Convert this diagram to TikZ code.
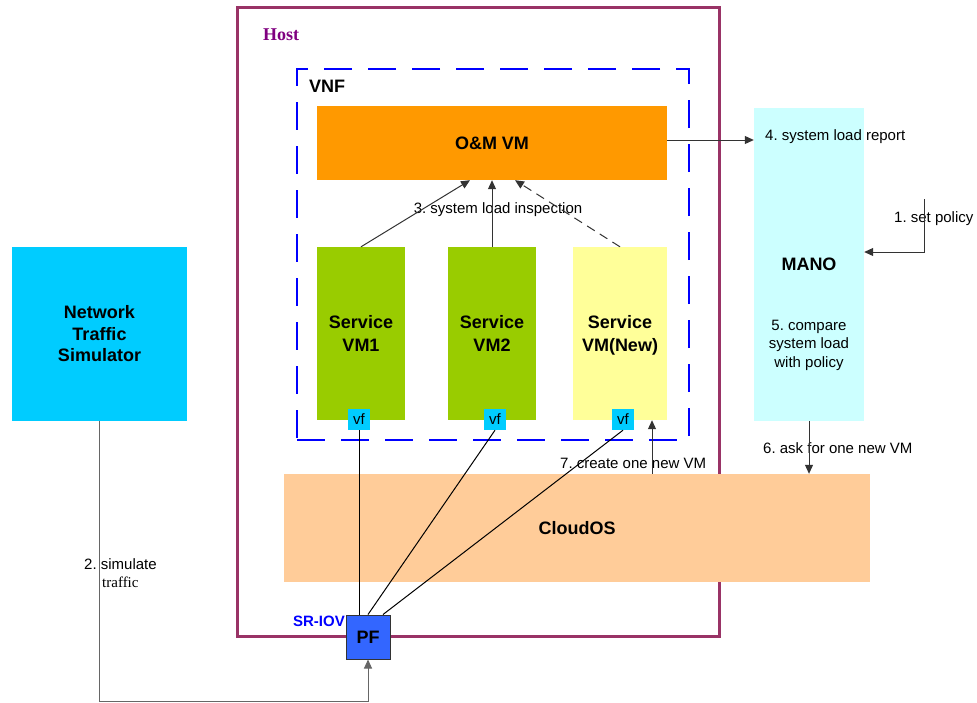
\documentclass[tikz,border=0pt]{standalone}
\usepackage{fontspec}
\setmainfont{Liberation Sans}
\newfontfamily\hostfont{Liberation Serif}
\usetikzlibrary{arrows.meta}
\frenchspacing
\definecolor{host_border}{RGB}{153,51,102}
\definecolor{host_text}{RGB}{128,0,128}
\definecolor{om_orange}{RGB}{255,153,0}
\definecolor{vm_green}{RGB}{153,204,0}
\definecolor{vm_yellow}{RGB}{255,255,153}
\definecolor{vf_cyan}{RGB}{0,204,255}
\definecolor{mano_cyan}{RGB}{204,255,255}
\definecolor{cloud_orange}{RGB}{255,204,153}
\definecolor{pf_blue}{RGB}{51,102,255}
\tikzstyle{box_normal} = [rectangle, inner sep=0pt, align=center, font=\fontsize{18}{23}\selectfont\bfseries]
\tikzstyle{box_host} = [rectangle, inner sep=0pt, draw=host_border, line width=3pt]
\tikzstyle{box_vnf} = [rectangle, inner sep=0pt, draw=blue, line width=2pt, dash pattern=on 28pt off 16pt]
\tikzstyle{node_vf} = [rectangle, inner sep=0pt, fill=vf_cyan, minimum width=22pt, minimum height=21pt, font=\fontsize{15}{18}\selectfont]
\tikzstyle{text_normal} = [inner sep=0pt, align=center, font=\fontsize{15}{18.5}\selectfont]
\tikzstyle{edge_normal} = [line width=1pt, draw=black!80, -{Triangle[length=9pt,width=8pt]}]
\tikzstyle{edge_dashed} = [edge_normal, dash pattern=on 9pt off 6pt]
\tikzstyle{edge_plain} = [line width=1pt]

\begin{document}
\begin{tikzpicture}[x=1pt,y=-1pt]
			\useasboundingbox (0,0) rectangle (977,702);
			% boxes
			\node (Host) at (478,321.5) [box_host, minimum width=482pt, minimum height=629pt] {};
			\node (HostLabel) at (281,35) [inner sep=0pt, text=host_text, font=\hostfont\bfseries\fontsize{18}{22}\selectfont] {Host};
			\node (VNF) at (493,254.5) [box_vnf, minimum width=392pt, minimum height=371pt] {};
			\node (VNFLabel) at (327,86) [box_normal] {VNF};
			\node (OM) at (492,143) [box_normal, fill=om_orange, minimum width=350pt, minimum height=74pt] {O\&M VM};
			\node (VM1) at (361,333.5) [box_normal, fill=vm_green, minimum width=88pt, minimum height=173pt] {Service\\VM1};
			\node (VM2) at (492,333.5) [box_normal, fill=vm_green, minimum width=88pt, minimum height=173pt] {Service\\VM2};
			\node (VMN) at (620,333.5) [box_normal, fill=vm_yellow, minimum width=94pt, minimum height=173pt] {Service\\VM\smash{(New)}};
			\node (vf1) at (359,419.5) [node_vf] {vf};
			\node (vf2) at (495,419.5) [node_vf] {vf};
			\node (vf3) at (623,419.5) [node_vf] {vf};
			\node (MANO) at (809,264.5) [box_normal, fill=mano_cyan, minimum width=110pt, minimum height=313pt] {MANO};
			\node (Compare) at (809,345) [text_normal] {5. compare\\system load\\with policy};
			\node (CloudOS) at (577,528) [box_normal, fill=cloud_orange, minimum width=586pt, minimum height=108pt] {CloudOS};
			\node (SIM) at (99.5,334) [box_normal, fill=vf_cyan, minimum width=175pt, minimum height=174pt, font=\fontsize{18}{21.5}\selectfont\bfseries] {Network\\Traffic\\Simulator};
			\node (PF) at (368,637) [box_normal, fill=pf_blue, draw=black!80, line width=1pt, minimum width=44pt, minimum height=44pt] {PF};
			\node (SRIOV) at (345,621) [anchor=east, inner sep=0pt, text=blue, font=\fontsize{15}{18}\selectfont\bfseries] {SR-IOV};
			% labels
			\node (L3) at (498,210) [text_normal] {3. system load inspection};
			\node (L4) at (765,137) [text_normal, anchor=west] {4. system load report};
			\node (L1) at (894,219) [text_normal, anchor=west] {1. set policy};
			\node (L6) at (763,448) [text_normal, anchor=west] {6. ask for one new VM};
			\node (L7) at (560,463) [text_normal, anchor=west] {7. create one new VM};
			\node (L2a) at (84,564) [text_normal, anchor=west] {2. simulate};
			\node (L2b) at (102,582) [text_normal, anchor=west, font=\hostfont\fontsize{15}{18}\selectfont] {traffic};
			% connectors
			\coordinate (P4) at ([yshift=3pt]OM.east);
			\coordinate (P1) at (924,199);
			\coordinate (P7) at ([xshift=75pt]CloudOS.north);
			\coordinate (P2) at (368,701);
			\draw[edge_normal] (VM1.north) -- ([xshift=-22pt]OM.south);
			\draw[edge_normal] (VM2.north) -- (OM.south);
			\draw[edge_dashed] (VMN.north) -- ([xshift=23pt]OM.south);
			\draw[edge_normal] (P4) -- (P4 -| MANO.west);
			\draw[edge_normal] (P1) |- ([yshift=12.5pt]MANO.east);
			\draw[edge_normal] (MANO.south) -- (MANO.south |- CloudOS.north);
			\draw[edge_normal] (P7) -- (P7 |- VMN.south);
			\draw[edge_plain] (vf1.south) -- (vf1.south |- PF.north);
			\draw[edge_plain] (vf2.south) -- (PF.north);
			\draw[edge_plain] (vf3.south) -- ([xshift=15pt]PF.north);
			\draw[edge_normal, draw=black!60] (SIM.south) |- (P2) -- (PF.south);
		\end{tikzpicture}
\end{document}
